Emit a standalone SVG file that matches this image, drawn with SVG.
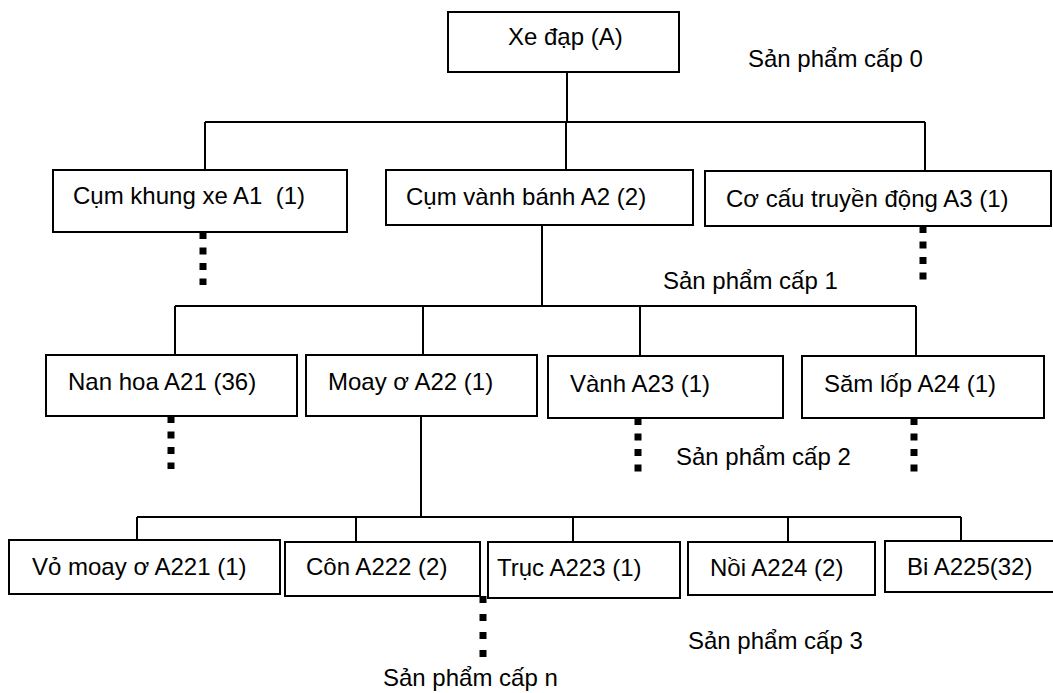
<svg xmlns="http://www.w3.org/2000/svg" width="1053" height="693" viewBox="0 0 1053 693">
<style>
  .box { fill: #fff; stroke: #000; stroke-width: 2; }
  .ln { stroke: #000; stroke-width: 2; fill: none; }
  .dot { stroke: #000; stroke-width: 7; stroke-dasharray: 7 8.5; fill: none; }
  text { font-family: "Liberation Sans", Arial, sans-serif; font-size: 24px; fill: #000; white-space: pre; }
</style>
<rect width="1053" height="693" fill="#fff"/>
<g id="connectors">
  <line class="ln" x1="567" y1="72" x2="567" y2="122"/>
  <line class="ln" x1="205" y1="122" x2="925" y2="122"/>
  <line class="ln" x1="205" y1="122" x2="205" y2="170"/>
  <line class="ln" x1="566" y1="122" x2="566" y2="170"/>
  <line class="ln" x1="925" y1="122" x2="925" y2="171"/>
  <line class="ln" x1="542" y1="225" x2="542" y2="306"/>
  <line class="ln" x1="175" y1="306" x2="916" y2="306"/>
  <line class="ln" x1="175" y1="306" x2="175" y2="355"/>
  <line class="ln" x1="423" y1="306" x2="423" y2="355"/>
  <line class="ln" x1="640" y1="306" x2="640" y2="356"/>
  <line class="ln" x1="916" y1="306" x2="916" y2="356"/>
  <line class="ln" x1="421" y1="416" x2="421" y2="517"/>
  <line class="ln" x1="137" y1="517" x2="961" y2="517"/>
  <line class="ln" x1="137" y1="517" x2="137" y2="540"/>
  <line class="ln" x1="356" y1="517" x2="356" y2="542"/>
  <line class="ln" x1="573" y1="517" x2="573" y2="542"/>
  <line class="ln" x1="788" y1="517" x2="788" y2="542"/>
  <line class="ln" x1="961" y1="517" x2="961" y2="541"/>
  <line class="dot" x1="203" y1="232" x2="203" y2="285"/>
  <line class="dot" x1="923" y1="226" x2="923" y2="280"/>
  <line class="dot" x1="171" y1="416" x2="171" y2="469"/>
  <line class="dot" x1="638" y1="418" x2="638" y2="472"/>
  <line class="dot" x1="914" y1="418" x2="914" y2="474"/>
  <line class="dot" x1="483" y1="596" x2="483" y2="657" style="stroke-dasharray:7 11"/>
</g>
<g id="nodeA"><rect class="box" x="448" y="12" width="231" height="60"/><text x="508" y="45">Xe đạp (A)</text></g>
<g id="nodeA1"><rect class="box" x="53" y="170" width="294" height="62"/><text x="73" y="204">Cụm khung xe A1  (1)</text></g>
<g id="nodeA2"><rect class="box" x="386" y="170" width="307" height="55"/><text x="406" y="205">Cụm vành bánh A2 (2)</text></g>
<g id="nodeA3"><rect class="box" x="705" y="171" width="346" height="55"/><text x="726" y="207">Cơ cấu truyền động A3 (1)</text></g>
<g id="nodeA21"><rect class="box" x="46" y="355" width="251" height="61"/><text x="68" y="390">Nan hoa A21 (36)</text></g>
<g id="nodeA22"><rect class="box" x="306" y="355" width="231" height="61"/><text x="328" y="390">Moay ơ A22 (1)</text></g>
<g id="nodeA23"><rect class="box" x="548" y="356" width="235" height="62"/><text x="570" y="392">Vành A23 (1)</text></g>
<g id="nodeA24"><rect class="box" x="802" y="356" width="242" height="62"/><text x="824" y="392">Săm lốp A24 (1)</text></g>
<g id="nodeA221"><rect class="box" x="9" y="540" width="271" height="54"/><text x="32" y="575">Vỏ moay ơ A221 (1)</text></g>
<g id="nodeA222"><rect class="box" x="285" y="542" width="195" height="54"/><text x="306" y="575">Côn A222 (2)</text></g>
<g id="nodeA223"><rect class="box" x="488" y="542" width="192" height="56"/><text x="497" y="576">Trục A223 (1)</text></g>
<g id="nodeA224"><rect class="box" x="688" y="542" width="187" height="53"/><text x="710" y="576">Nồi A224 (2)</text></g>
<g id="nodeA225"><rect class="box" x="885" y="541" width="180" height="51"/><text x="907" y="575">Bi A225(32)</text></g>
<g id="labels">
  <text x="748" y="67">Sản phẩm cấp 0</text>
  <text x="663" y="289">Sản phẩm cấp 1</text>
  <text x="676" y="465">Sản phẩm cấp 2</text>
  <text x="688" y="649">Sản phẩm cấp 3</text>
  <text x="383" y="686">Sản phẩm cấp n</text>
</g>
</svg>
